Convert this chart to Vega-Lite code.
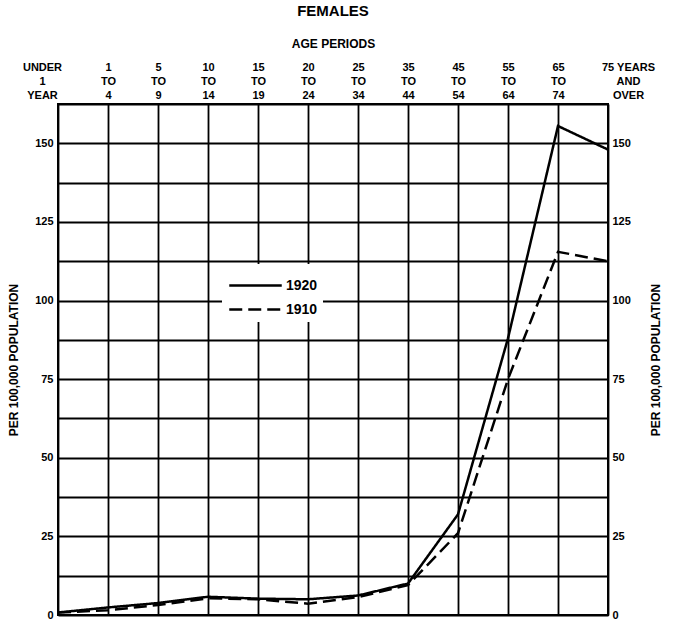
{
  "$schema": "https://vega.github.io/schema/vega-lite/v6.json",
  "width": 550,
  "height": 511,
  "autosize": {"type": "none"},
  "padding": {"left": 58, "top": 104, "right": 66, "bottom": 10},
  "background": "white",
  "config": {
    "font": "Liberation Sans",
    "view": {"stroke": "black", "strokeWidth": 2}
  },
  "title": {"text": "FEMALES", "fontSize": 15, "fontWeight": "bold", "font": "Liberation Sans", "anchor": "middle", "offset": 18, "color": "black"},
  "data": {
    "values": [
      {"age": "UNDER|1|YEAR", "year": "1920", "rate": 0.8},
      {"age": "1|TO|4", "year": "1920", "rate": 2.4},
      {"age": "5|TO|9", "year": "1920", "rate": 3.8},
      {"age": "10|TO|14", "year": "1920", "rate": 5.8},
      {"age": "15|TO|19", "year": "1920", "rate": 5.2},
      {"age": "20|TO|24", "year": "1920", "rate": 5.0},
      {"age": "25|TO|34", "year": "1920", "rate": 6.2},
      {"age": "35|TO|44", "year": "1920", "rate": 10},
      {"age": "45|TO|54", "year": "1920", "rate": 32},
      {"age": "55|TO|64", "year": "1920", "rate": 88},
      {"age": "65|TO|74", "year": "1920", "rate": 155.5},
      {"age": "75 YEARS|AND|OVER", "year": "1920", "rate": 148},
      {"age": "UNDER|1|YEAR", "year": "1910", "rate": 0.8},
      {"age": "1|TO|4", "year": "1910", "rate": 1.5},
      {"age": "5|TO|9", "year": "1910", "rate": 3.2},
      {"age": "10|TO|14", "year": "1910", "rate": 5.3},
      {"age": "15|TO|19", "year": "1910", "rate": 5.0},
      {"age": "20|TO|24", "year": "1910", "rate": 3.6},
      {"age": "25|TO|34", "year": "1910", "rate": 5.7},
      {"age": "35|TO|44", "year": "1910", "rate": 9.5},
      {"age": "45|TO|54", "year": "1910", "rate": 26},
      {"age": "55|TO|64", "year": "1910", "rate": 75},
      {"age": "65|TO|74", "year": "1910", "rate": 115.5},
      {"age": "75 YEARS|AND|OVER", "year": "1910", "rate": 112.5}
    ]
  },
  "encoding": {
    "x": {
      "field": "age",
      "type": "ordinal",
      "sort": ["UNDER|1|YEAR", "1|TO|4", "5|TO|9", "10|TO|14", "15|TO|19", "20|TO|24", "25|TO|34", "35|TO|44", "45|TO|54", "55|TO|64", "65|TO|74", "75 YEARS|AND|OVER"],
      "scale": {"type": "point", "padding": 0},
      "axis": {
        "orient": "top",
        "title": "AGE PERIODS",
        "titleFontSize": 12,
        "titleFontWeight": "bold",
        "titleColor": "black",
        "titlePadding": 11,
        "labelExpr": "split(datum.label, '|')",
        "labelAngle": 0,
        "labelFontSize": 11,
        "labelFontWeight": "bold",
        "labelColor": "black",
        "labelLineHeight": 14,
        "labelPadding": 32,
        "labelOverlap": false,
        "labelBound": false,
        "labelOffset": {"condition": [{"test": "datum.value === 'UNDER|1|YEAR'", "value": -16}, {"test": "datum.value === '75 YEARS|AND|OVER'", "value": 20}], "value": 0},
        "ticks": false,
        "domain": false,
        "grid": true,
        "gridColor": "black",
        "gridWidth": 1.8,
        "gridOpacity": 1
      }
    },
    "y": {
      "field": "rate",
      "type": "quantitative",
      "scale": {"domain": [0, 162.5], "nice": false, "zero": true}
    }
  },
  "layer": [
    {
      "mark": {"type": "line", "color": "black", "strokeWidth": 2.5, "strokeCap": "butt"},
      "encoding": {
        "y": {
          "field": "rate",
          "type": "quantitative",
          "axis": {
            "orient": "left",
            "title": "PER 100,000 POPULATION",
            "titleFontSize": 12,
            "titleFontWeight": "bold",
            "titleColor": "black",
            "titlePadding": 14,
            "values": [0, 12.5, 25, 37.5, 50, 62.5, 75, 87.5, 100, 112.5, 125, 137.5, 150, 162.5],
            "labelExpr": "datum.value % 25 === 0 ? datum.label : ''",
            "labelFontSize": 11,
            "labelFontWeight": "bold",
            "labelColor": "black",
            "labelPadding": 5,
            "ticks": false,
            "domain": false,
            "grid": true,
            "gridColor": "black",
            "gridWidth": 1.8,
            "gridOpacity": 1
          }
        },
        "strokeDash": {
          "field": "year",
          "type": "nominal",
          "scale": {"domain": ["1920", "1910"], "range": [[1, 0], [13, 6]]},
          "legend": {
            "orient": "none",
            "legendX": 164,
            "legendY": 160,
            "title": null,
            "padding": 5,
            "symbolType": "M-1.75,0H1.75",
            "symbolSize": 900,
            "symbolStrokeWidth": 2.5,
            "symbolStrokeColor": "black",
            "symbolOffset": 12,
            "labelFontSize": 14,
            "labelFontWeight": "bold",
            "labelColor": "black",
            "labelOffset": 14,
            "rowPadding": 0,
            "fillColor": "white"
          }
        }
      }
    },
    {
      "mark": {"type": "line", "opacity": 0},
      "encoding": {
        "y": {
          "field": "rate",
          "type": "quantitative",
          "axis": {
            "orient": "right",
            "title": "PER 100,000 POPULATION",
            "titleAngle": 270,
            "titleFontSize": 12,
            "titleFontWeight": "bold",
            "titleColor": "black",
            "titlePadding": 32,
            "values": [0, 25, 50, 75, 100, 125, 150],
            "labelFontSize": 11,
            "labelFontWeight": "bold",
            "labelColor": "black",
            "labelPadding": 4,
            "ticks": false,
            "domain": false,
            "grid": false
          }
        },
        "detail": {"field": "year"}
      }
    }
  ],
  "resolve": {"axis": {"y": "independent"}}
}
